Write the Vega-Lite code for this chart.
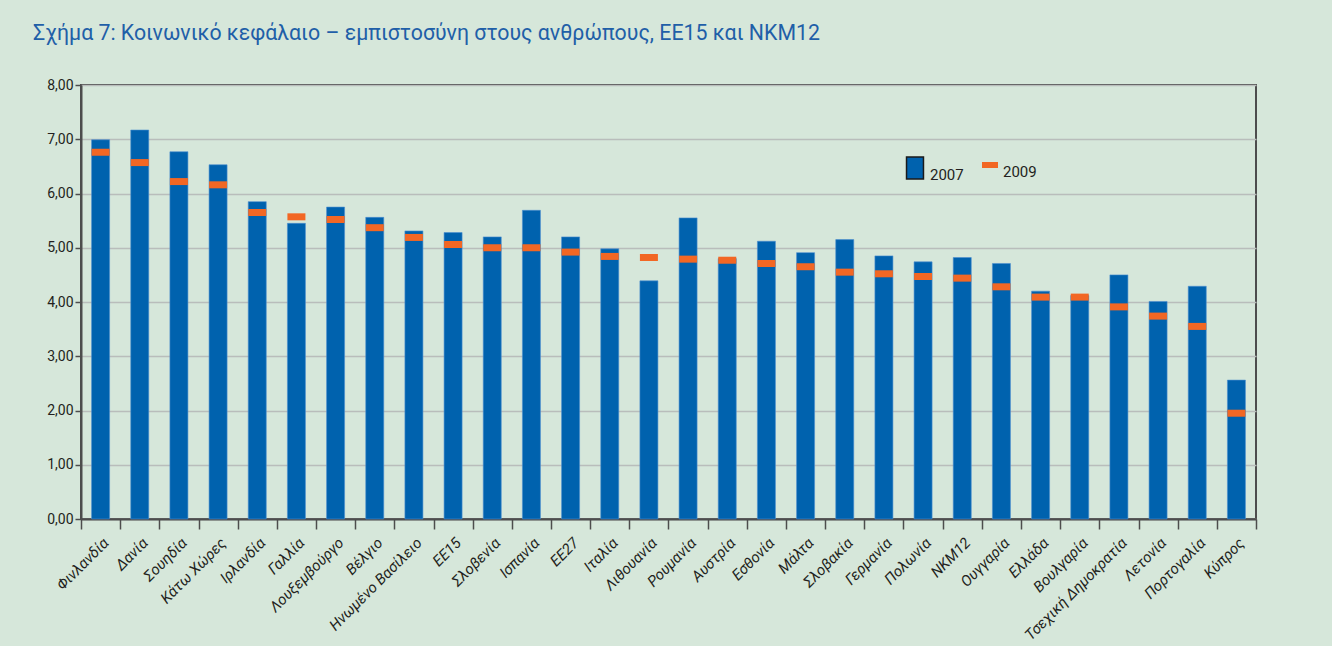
{
  "$schema": "https://vega.github.io/schema/vega-lite/v6.json",
  "autosize": "none",
  "width": 1175,
  "height": 434,
  "padding": {"left": 81, "top": 85, "right": 76, "bottom": 127},
  "background": "#d6e7da",
  "title": {
    "text": "Σχήμα 7: Κοινωνικό κεφάλαιο – εμπιστοσύνη στους ανθρώπους, ΕΕ15 και ΝΚΜ12",
    "anchor": "start",
    "frame": "group",
    "dx": -48,
    "offset": 34,
    "font": "Roboto, Noto Sans",
    "fontSize": 21.3,
    "fontWeight": "normal",
    "color": "#1f5fa8"
  },
  "data": {
    "values": [
      {"country": "Φινλανδία", "v2007": 6.99, "v2009": 6.76},
      {"country": "Δανία", "v2007": 7.17, "v2009": 6.57},
      {"country": "Σουηδία", "v2007": 6.77, "v2009": 6.22},
      {"country": "Κάτω Χώρες", "v2007": 6.53, "v2009": 6.16},
      {"country": "Ιρλανδία", "v2007": 5.85, "v2009": 5.65},
      {"country": "Γαλλία", "v2007": 5.45, "v2009": 5.57},
      {"country": "Λουξεμβούργο", "v2007": 5.75, "v2009": 5.52},
      {"country": "Βέλγιο", "v2007": 5.56, "v2009": 5.37},
      {"country": "Ηνωμένο Βασίλειο", "v2007": 5.31, "v2009": 5.19},
      {"country": "ΕΕ15", "v2007": 5.28, "v2009": 5.06},
      {"country": "Σλοβενία", "v2007": 5.20, "v2009": 5.00},
      {"country": "Ισπανία", "v2007": 5.69, "v2009": 5.00},
      {"country": "ΕΕ27", "v2007": 5.20, "v2009": 4.92},
      {"country": "Ιταλία", "v2007": 4.98, "v2009": 4.84},
      {"country": "Λιθουανία", "v2007": 4.39, "v2009": 4.82},
      {"country": "Ρουμανία", "v2007": 5.55, "v2009": 4.79},
      {"country": "Αυστρία", "v2007": 4.80, "v2009": 4.77},
      {"country": "Εσθονία", "v2007": 5.12, "v2009": 4.71},
      {"country": "Μάλτα", "v2007": 4.91, "v2009": 4.65},
      {"country": "Σλοβακία", "v2007": 5.15, "v2009": 4.55},
      {"country": "Γερμανία", "v2007": 4.85, "v2009": 4.52},
      {"country": "Πολωνία", "v2007": 4.74, "v2009": 4.47},
      {"country": "ΝΚΜ12", "v2007": 4.82, "v2009": 4.44},
      {"country": "Ουγγαρία", "v2007": 4.71, "v2009": 4.28},
      {"country": "Ελλάδα", "v2007": 4.20, "v2009": 4.09},
      {"country": "Βουλγαρία", "v2007": 4.12, "v2009": 4.09},
      {"country": "Τσεχική Δημοκρατία", "v2007": 4.50, "v2009": 3.91},
      {"country": "Λετονία", "v2007": 4.01, "v2009": 3.74},
      {"country": "Πορτογαλία", "v2007": 4.29, "v2009": 3.55},
      {"country": "Κύπρος", "v2007": 2.56, "v2009": 1.95}
    ]
  },
  "encoding": {
    "x": {
      "field": "country",
      "type": "nominal",
      "sort": null,
      "scale": {"paddingInner": 0, "paddingOuter": 0},
      "axis": {
        "title": null,
        "labelAngle": -45,
        "labelFont": "Roboto, Noto Sans",
        "labelFontStyle": "italic",
        "labelFontSize": 15,
        "labelColor": "#231f20",
        "labelPadding": 6,
        "tickBand": "extent",
        "tickSize": 10,
        "tickColor": "#4d4d4d",
        "tickWidth": 1.5,
        "domainColor": "#4d4d4d",
        "domainWidth": 2
      }
    }
  },
  "layer": [
    {
      "mark": {"type": "bar", "width": {"band": 0.46}, "stroke": "#4d8fd0", "strokeWidth": 0.6},
      "encoding": {
        "y": {
          "field": "v2007",
          "type": "quantitative",
          "scale": {"domain": [0, 8], "nice": false},
          "axis": {
            "title": null,
            "values": [0, 1, 2, 3, 4, 5, 6, 7, 8],
            "labelExpr": "replace(format(datum.value, '.2f'), '.', ',')",
            "labelFont": "Roboto, Noto Sans",
            "labelFontSize": 14,
            "labelColor": "#231f20",
            "tickSize": 6,
            "tickColor": "#4d4d4d",
            "tickWidth": 1.5,
            "domainColor": "#4d4d4d",
            "domainWidth": 2,
            "grid": true,
            "gridColor": "#b9bdbb",
            "gridWidth": 1.5
          }
        },
        "color": {
          "datum": "2007",
          "type": "nominal",
          "scale": {"domain": ["2007"], "range": ["#0062ae"]},
          "legend": {
            "title": null,
            "orient": "none",
            "legendX": 822,
            "legendY": 71,
            "direction": "horizontal",
            "symbolType": "M-0.77,-1H0.77V1H-0.77Z",
            "symbolSize": 484,
            "symbolOpacity": 1,
            "symbolStrokeColor": "#1a1a1a",
            "symbolStrokeWidth": 1.5,
            "labelFont": "Roboto, Noto Sans",
            "labelFontSize": 15,
            "labelColor": "#231f20",
            "labelBaseline": "top",
            "labelOffset": 3
          }
        }
      }
    },
    {
      "mark": {"type": "tick", "size": 18, "thickness": 7, "orient": "horizontal"},
      "encoding": {
        "y": {"field": "v2009", "type": "quantitative"},
        "fill": {
          "datum": "2009",
          "type": "nominal",
          "scale": {"domain": ["2009"], "range": ["#f26724"]},
          "legend": {
            "title": null,
            "orient": "none",
            "legendX": 901,
            "legendY": 72,
            "direction": "horizontal",
            "symbolType": "M-1,-0.375H1V0.375H-1Z",
            "symbolSize": 256,
            "symbolOpacity": 1,
            "symbolStrokeWidth": 0,
            "labelFont": "Roboto, Noto Sans",
            "labelFontSize": 15,
            "labelColor": "#231f20",
            "labelOffset": 5,
            "labelBaseline": "top"
          }
        }
      }
    }
  ],
  "config": {
    "view": {"stroke": "#4d4d4d", "strokeWidth": 2},
    "tick": {"opacity": 1}
  }
}
